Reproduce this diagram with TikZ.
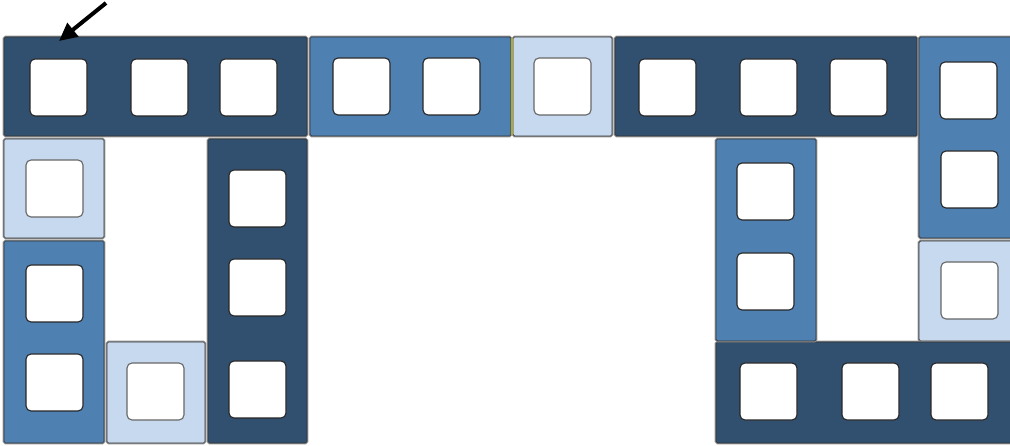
\documentclass[tikz,border=0pt]{standalone}
\usetikzlibrary{arrows.meta}
\definecolor{dkb}{RGB}{49,80,111}
\definecolor{mdb}{RGB}{78,128,178}
\definecolor{ltb}{RGB}{199,217,239}
\definecolor{rim}{RGB}{150,150,150}
\definecolor{seam}{RGB}{181,168,42}
\tikzset{
  blk/.style={anchor=north west, inner sep=0pt, outer sep=0pt, rounded corners=1.5pt,
    draw=black!80, line width=0.7pt,
    preaction={draw=rim, line width=2.8pt}},
  hole/.style={anchor=north west, inner sep=0pt, outer sep=0pt, rounded corners=5pt,
    fill=white, draw=black!85, line width=1.1pt, minimum width=57pt, minimum height=57pt},
  lhole/.style={hole, draw=black!60},
}
\newcommand{\blkat}[6]{\node[blk, fill=#6, minimum width={(#4-#2)*1pt}, minimum height={(#5-#3)*1pt}] (#1) at (#2,#3) {};}
\begin{document}
\begin{tikzpicture}[x=1pt,y=-1pt]
\useasboundingbox (0,0) rectangle (1010,446);
\clip (0,0) rectangle (1010,446);
% blocks
\blkat{b1}{4}{37}{307}{136}{dkb}
\blkat{b2}{310}{37}{511}{136}{mdb}
\blkat{b3}{513}{37}{612}{136}{ltb}
\blkat{b4}{615}{37}{917}{136}{dkb}
\blkat{b5}{919}{37}{1016}{238}{mdb}
\blkat{b6}{919}{241}{1016}{341}{ltb}
\blkat{b7}{716}{342}{1016}{443}{dkb}
\blkat{b8}{716}{139}{816}{341}{mdb}
\blkat{b9}{4}{139}{104}{238}{ltb}
\blkat{b10}{4}{241}{104}{443}{mdb}
\blkat{b11}{107}{342}{205}{443}{ltb}
\blkat{b12}{208}{139}{307}{443}{dkb}
\coordinate (s1) at (512,38);
\coordinate (s2) at (512,135);
\draw[seam, line width=1.5pt] (s1) -- (s2);
% holes
\node[hole] (h1a) at (30,59) {};
\node[hole] (h1b) at (131,59) {};
\node[hole] (h1c) at (220,59) {};
\node[hole] (h2a) at (333,58) {};
\node[hole] (h2b) at (423,58) {};
\node[lhole] (h3a) at (534,58) {};
\node[hole] (h4a) at (639,59) {};
\node[hole] (h4b) at (740,59) {};
\node[hole] (h4c) at (830,59) {};
\node[hole] (h5a) at (940,62) {};
\node[hole] (h5b) at (941,151) {};
\node[lhole] (h6a) at (941,262) {};
\node[hole] (h7a) at (740,363) {};
\node[hole] (h7b) at (842,363) {};
\node[hole] (h7c) at (931,363) {};
\node[hole] (h8a) at (737,163) {};
\node[hole] (h8b) at (737,253) {};
\node[lhole] (h9a) at (26,160) {};
\node[hole] (h10a) at (26,265) {};
\node[hole] (h10b) at (26,354) {};
\node[lhole] (h11a) at (127,363) {};
\node[hole] (h12a) at (229,170) {};
\node[hole] (h12b) at (229,259) {};
\node[hole] (h12c) at (229,361) {};
% arrow
\coordinate (atail) at (106,3);
\coordinate (ahead) at (59,41);
\draw[line width=4pt, -{Triangle[length=18pt,width=17pt]}] (atail) -- (ahead);
\end{tikzpicture}
\end{document}
